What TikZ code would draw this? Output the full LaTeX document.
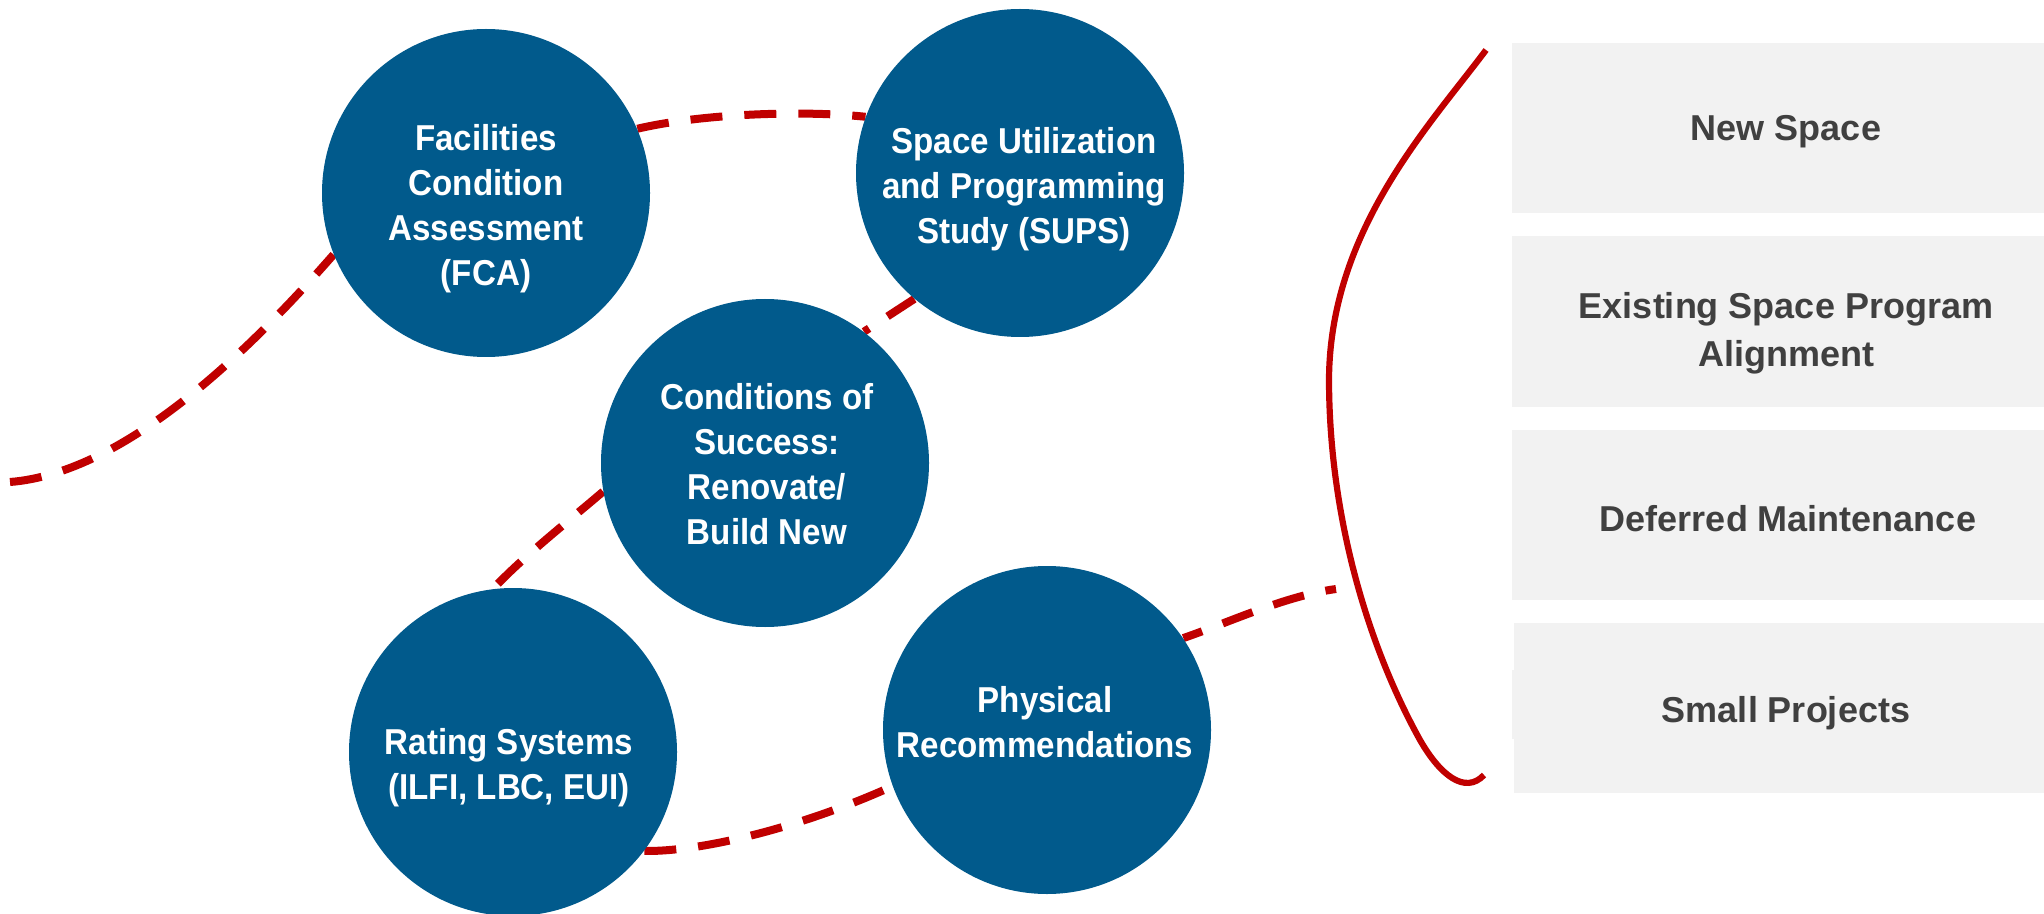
\documentclass[tikz,border=0pt]{standalone}
\usepackage{fontspec}
\setmainfont{Liberation Sans}
\newfontfamily\circfont[FakeStretch=0.92]{Liberation Sans}
\usetikzlibrary{backgrounds}
\definecolor{circblue}{RGB}{1,90,140}
\definecolor{linered}{RGB}{192,0,0}
\definecolor{boxgray}{RGB}{242,242,242}
\definecolor{boxtext}{RGB}{64,64,64}
\tikzset{
  circ/.style={circle, fill=circblue, draw=none, minimum size=164pt, inner sep=0pt},
  ctext/.style={text=white, align=center, inner sep=0pt, font=\circfont\bfseries\fontsize{18}{22.5}\selectfont},
  boxnode/.style={rectangle, fill=boxgray, draw=none, minimum width=274pt, inner sep=0pt},
  btext/.style={text=boxtext, align=center, inner sep=0pt, font=\bfseries\fontsize{18}{24}\selectfont},
  reddash/.style={draw=linered, line width=4pt, dash pattern=on 16pt off 11pt},
  bracecurve/.style={draw=linered, line width=3.1pt}
}
\begin{document}
\begin{tikzpicture}[x=0.5pt, y=-0.5pt]
\useasboundingbox (0,0) rectangle (2044,914);

% circles
\node[circ] (fca)  at (486,193) {};
\node[circ] (sups) at (1020,173) {};
\node[circ] (cond) at (765,463) {};
\node[circ] (rate) at (513,752) {};
\node[circ] (phys) at (1047,730) {};

\node[ctext] (fcat)  at (486,209) {Facilities\\Condition\\Assessment\\(FCA)};
\node[ctext] (supst) at (1024,189) {Space Utilization\\and Programming\\Study (SUPS)};
\node[ctext] (condt) at (767,464) {Conditions of\\Success:\\Renovate/\\Build New};
\node[ctext] (ratet) at (509,768) {Rating Systems\\(ILFI, LBC, EUI)};
\node[ctext] (physt) at (1045,722) {Physical\\Recommendations};

% boxes
\node[boxnode, minimum height=85pt] (b1) at (1786,128) {};
\node[boxnode, minimum height=85.5pt] (b2) at (1786,321.5) {};
\node[boxnode, minimum height=85pt] (b3) at (1786,515) {};
\fill[boxgray] (1512,670) rectangle (1530,739);
\node[boxnode, minimum height=85pt, minimum width=273pt] (b4) at (1787,707.5) {};

\node[btext] (b1t) at (1786,132) {New Space};
\node[btext] (b2t) at (1786,333) {Existing Space Program\\Alignment};
\node[btext] (b3t) at (1788,519) {Deferred Maintenance};
\node[btext] (b4t) at (1786,713) {Small Projects};

% endpoints
\coordinate (ls) at (10,482);
\coordinate (le) at (1336,589);
\coordinate (bt) at (1486,50);
\coordinate (bm) at (1329,379);
\coordinate (bl) at (1420,740);
\coordinate (bb) at (1484,775);

\begin{pgfonlayer}{background}
\fill[white] (0,0) rectangle (2044,914);
\draw[reddash] (ls) .. controls (125,473) and (250,350) .. (fca.202);
\draw[reddash] (fca.23) .. controls (700,114) and (800,110) .. (sups.160);
\draw[reddash] (sups.230) -- (cond.53);
\draw[reddash] (cond.190) .. controls (570,520) and (525,555) .. (rate.97);
\draw[reddash] (rate.-37) .. controls (700,852) and (800,828) .. (phys.200);
\draw[reddash, dash phase=6pt] (phys.34) .. controls (1230,622) and (1285,596) .. (le);
\end{pgfonlayer}

% brace
\draw[bracecurve] (bt) .. controls (1430,125) and (1330,230) .. (bm)
  .. controls (1329,520) and (1370,650) .. (bl)
  .. controls (1440,775) and (1465,795) .. (bb);
\end{tikzpicture}
\end{document}
